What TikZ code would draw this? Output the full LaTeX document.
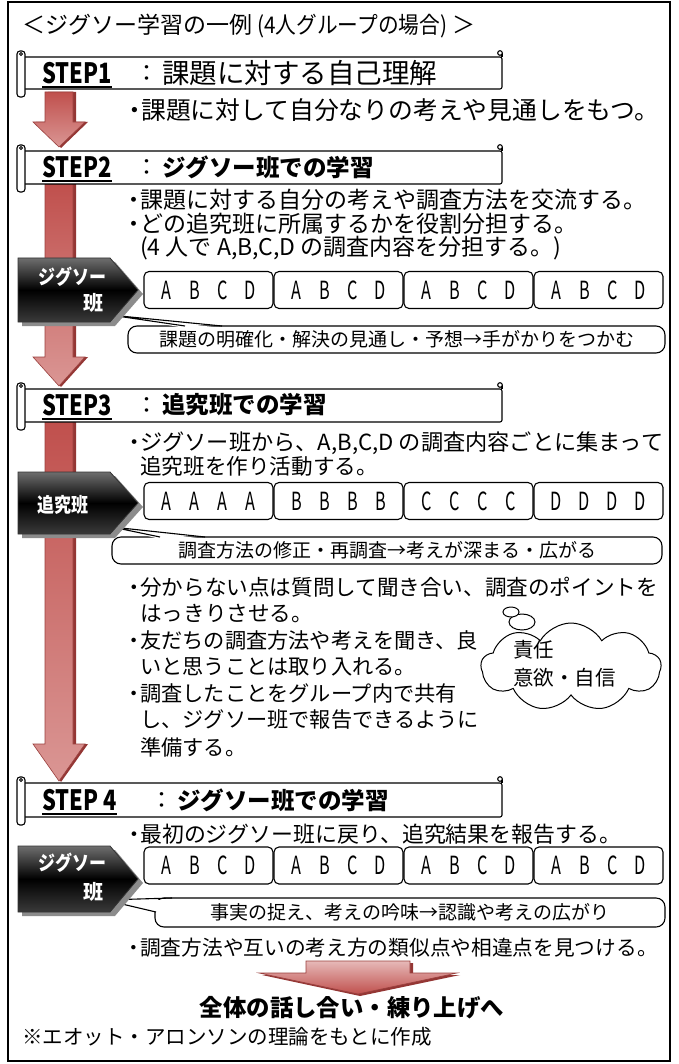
\documentclass[tikz,border=0pt]{standalone}
\usepackage{fontspec}
\usepackage{graphicx}
\setmainfont{Noto Sans CJK JP}
\usetikzlibrary{shapes.symbols}
\definecolor{arrowred}{HTML}{C0504D}
\definecolor{arrowlight}{HTML}{DA9694}
\definecolor{arrowdark}{HTML}{943634}
\definecolor{pinklight}{HTML}{E6B9B8}
\definecolor{shadowgray}{HTML}{8C8C8C}
\definecolor{pentTop}{HTML}{6E6E6E}
\definecolor{pentBot}{HTML}{3A3A3A}
\newcommand{\fs}[1]{\fontsize{#1}{#1}\selectfont}
\newcommand{\bul}{\makebox[12pt][c]{・}}
\newcommand{\ltr}[1]{\makebox[28pt][c]{\scalebox{0.65}[1]{#1}}}
\newcommand{\cond}[2]{\scalebox{#1}[1]{#2}}
\newcommand{\redarrow}[3]{%
  \fill[arrowdark] (48,#1) -- (76,#1) -- (76,#2) -- (88,#2) -- (61,#3+1) -- (36,#2) -- (48,#2) -- cycle;
  \shade[top color=arrowred, bottom color=arrowlight, draw=arrowred!80!black, line width=0.6pt]
    (45,#1) -- (73,#1) -- (73,#2) -- (85,#2) -- (59,#3) -- (33,#2) -- (45,#2) -- cycle;}
\newcommand{\scrollban}[2]{%
  \draw[bline,fill=white,rounded corners=2pt] (24,#1) -- (502,#1) -- (502,#2) -- (24,#2);
  \draw[bline] (502,#1) -- (502,#1-4);
  \draw[bline,fill=white] (500,#1-4) circle (2.3);
  \draw[bline,fill=white,rounded corners=3pt] (17,#1-6) rectangle (25,#2+8);
  \draw[line width=0.8pt,fill=white] (21,#1-3) circle (1.5);}
\newcommand{\drawpent}[2]{%
  \pgfmathsetmacro{\pmid}{(#1+#2)/2}%
  \fill[shadowgray] (22,#1+4) -- (115,#1+4) -- (143,\pmid+4) -- (115,#2+4) -- (22,#2+4) -- cycle;
  \shade[top color=pentTop, bottom color=pentBot, middle color=black, draw=black!80, line width=0.8pt]
    (18,#1) -- (110,#1) -- (138,\pmid) -- (110,#2) -- (18,#2) -- cycle;}
\tikzset{
  x=1pt, y=-1pt,
  bline/.style={line width=1.1pt, draw=black},
  body/.style={anchor=west, inner sep=0pt, font=\fs{21.6}},
  steplabel/.style={anchor=west, inner sep=0pt, font=\fs{28}\bfseries},
  colon/.style={inner sep=0pt, font=\fs{23}},
  headtxt/.style={anchor=west, inner sep=0pt, font=\fs{23.5}\bfseries},
  lbox/.style={draw, line width=1.1pt, rounded corners=5pt, minimum width=129pt, minimum height=37pt, inner sep=0pt, fill=white, font=\fs{25}},
  cbox/.style={line width=1.1pt, draw=black, fill=white, rounded corners=9pt},
  wedge/.style={line width=1.1pt, line join=round},
  ctext/.style={inner sep=0pt, font=\fs{19}},
  penttxt/.style={inner sep=0pt, text=white, font=\fs{20}\bfseries},
}
\begin{document}
\begin{tikzpicture}
\useasboundingbox (0,0) rectangle (678,1064);
\fill[white] (0,0) rectangle (678,1064);
\draw[line width=1.2pt] (8,2) rectangle (670,1061);

% title
\node[anchor=west, inner sep=0pt, font=\fs{23}] (title) at (22,26) {＜ジグソー学習の一例 \cond{0.9}{(4人グループの場合)} ＞};

% arrows
\redarrow{92}{122}{147}
\redarrow{184}{357}{386}
\redarrow{422}{744}{781}

% ---------------- STEP1
\scrollban{57}{89}
\node[steplabel] (s1) at (42,73) {\cond{0.78}{STEP1}};
\draw[line width=1.2pt] ([yshift=-3pt]s1.south west) -- ([yshift=-3pt]s1.south east);
\node[colon] (c1) at (147,74) {：};
\node[anchor=west, inner sep=0pt, font=\fs{27.5}] (h1) at (162,73) {課題に対する自己理解};
\node[body, font=\fs{24.8}] (t1) at (128,110) {\makebox[13pt][c]{・}課題に対して自分なりの考えや見通しをもつ。};

% ---------------- STEP2
\scrollban{151}{184}
\node[steplabel] (s2) at (42,167) {\cond{0.78}{STEP2}};
\draw[line width=1.2pt] ([yshift=-3pt]s2.south west) -- ([yshift=-3pt]s2.south east);
\node[colon] (c2) at (147,168) {：};
\node[headtxt] (h2) at (162,167) {ジグソー班での学習};
\node[body, font=\fs{23}] (t2a) at (128,200) {\bul 課題に対する自分の考えや調査方法を交流する。};
\node[body, font=\fs{23}] (t2b) at (128,224) {\bul どの追究班に所属するかを役割分担する。};
\node[body, font=\fs{23}] (t2c) at (140,248) {(4 人で A,B,C,D の調査内容を分担する。)};

\node[lbox] (b1a) at (208.5,290) {\ltr{A}\ltr{B}\ltr{C}\ltr{D}};
\node[lbox] (b1b) at (338.5,290) {\ltr{A}\ltr{B}\ltr{C}\ltr{D}};
\node[lbox] (b1c) at (468.5,290) {\ltr{A}\ltr{B}\ltr{C}\ltr{D}};
\node[lbox] (b1d) at (598.5,290) {\ltr{A}\ltr{B}\ltr{C}\ltr{D}};

\draw[cbox] (128,326) rectangle (665,353);
\fill[white] (110,315) -- (185,328) -- (222,328) -- cycle;
\draw[wedge] (185,326) -- (110,315) -- (222,326);
\node[ctext] (co1) at (396.5,339.5) {課題の明確化・解決の見通し・予想→手がかりをつかむ};

\drawpent{258}{322}
\node[penttxt] (p1a) at (72,277) {\cond{0.85}{ジグソー}};
\node[penttxt] (p1b) at (93,303) {班};

% ---------------- STEP3
\scrollban{389}{422}
\node[steplabel] (s3) at (42,405) {\cond{0.78}{STEP3}};
\draw[line width=1.2pt] ([yshift=-3pt]s3.south west) -- ([yshift=-3pt]s3.south east);
\node[colon] (c3) at (147,406) {：};
\node[headtxt] (h3) at (162,405) {追究班での学習};
\node[body, font=\fs{22.2}] (t3a) at (128,443) {\bul ジグソー班から、A,B,C,D の調査内容ごとに集まって};
\node[body] (t3b) at (140,466) {追究班を作り活動する。};

\node[lbox] (b2a) at (208.5,501) {\ltr{A}\ltr{A}\ltr{A}\ltr{A}};
\node[lbox] (b2b) at (338.5,501) {\ltr{B}\ltr{B}\ltr{B}\ltr{B}};
\node[lbox] (b2c) at (468.5,501) {\ltr{C}\ltr{C}\ltr{C}\ltr{C}};
\node[lbox] (b2d) at (598.5,501) {\ltr{D}\ltr{D}\ltr{D}\ltr{D}};

\draw[cbox] (112,537) rectangle (662,564);
\fill[white] (112,527) -- (160,539) -- (205,539) -- cycle;
\draw[wedge] (160,537) -- (112,527) -- (205,537);
\node[ctext] (co2) at (387,550.5) {調査方法の修正・再調査→考えが深まる・広がる};

\drawpent{472}{534}
\node[penttxt] (p2) at (63,505) {\cond{0.85}{追究班}};

\node[body] (t3c) at (128,587) {\bul 分からない点は質問して聞き合い、調査のポイントを};
\node[body] (t3d) at (140,614) {はっきりさせる。};
\node[body, font=\fs{21.2}] (t3e) at (128,640) {\bul 友だちの調査方法や考えを聞き、良};
\node[body, font=\fs{21.2}] (t3f) at (140,667) {いと思うことは取り入れる。};
\node[body, font=\fs{21.2}] (t3g) at (128,694) {\bul 調査したことをグループ内で共有};
\node[body, font=\fs{21.2}] (t3h) at (140,720) {し、ジグソー班で報告できるように};
\node[body, font=\fs{21.2}] (t3i) at (140,747) {準備する。};

\node[cloud, cloud puffs=9, cloud puff arc=120, aspect=2.1, draw, line width=1pt, fill=white,
      minimum width=180pt, minimum height=88pt, inner sep=0pt] (cloud) at (571,667) {};
\draw[line width=1pt, fill=white] (522,622) ellipse (13 and 8);
\draw[line width=1pt, fill=white] (511,612) ellipse (8 and 5);
\node[anchor=west, inner sep=0pt, font=\fs{20.5}] (k1) at (513,650) {責任};
\node[anchor=west, inner sep=0pt, font=\fs{20.5}] (k2) at (513,678) {意欲・自信};

% ---------------- STEP4
\scrollban{783}{817}
\node[steplabel] (s4) at (42,800) {\cond{0.78}{STEP 4}};
\draw[line width=1.2pt] ([yshift=-3pt]s4.south west) -- ([yshift=-3pt]s4.south east);
\node[colon] (c4) at (162,801) {：};
\node[headtxt] (h4) at (177,800) {ジグソー班での学習};
\node[body, font=\fs{21.9}] (t4a) at (128,834) {\bul 最初のジグソー班に戻り、追究結果を報告する。};

\node[lbox] (b3a) at (208.5,865.5) {\ltr{A}\ltr{B}\ltr{C}\ltr{D}};
\node[lbox] (b3b) at (338.5,865.5) {\ltr{A}\ltr{B}\ltr{C}\ltr{D}};
\node[lbox] (b3c) at (468.5,865.5) {\ltr{A}\ltr{B}\ltr{C}\ltr{D}};
\node[lbox] (b3d) at (598.5,865.5) {\ltr{A}\ltr{B}\ltr{C}\ltr{D}};

\draw[cbox] (155,898) rectangle (665,927);
\fill[white] (105,900) -- (172,900) -- (157,912) -- cycle;
\draw[wedge] (172,898) -- (105,900) -- (156,912);
\node[ctext] (co3) at (410,912.5) {事実の捉え、考えの吟味→認識や考えの広がり};

\drawpent{846}{912}
\node[penttxt] (p3a) at (72,863) {\cond{0.85}{ジグソー}};
\node[penttxt] (p3b) at (93,892) {班};

\node[body, font=\fs{20.7}] (t4b) at (128,948) {\bul 調査方法や互いの考え方の類似点や相違点を見つける。};

% big arrow
\fill[arrowdark] (309,963) -- (413,963) -- (413,975) -- (460,975) -- (360,996) -- (262,975) -- (309,975) -- cycle;
\shade[top color=pinklight, bottom color=arrowred, draw=arrowred!80!black, line width=0.6pt]
  (306,961) -- (410,961) -- (410,973) -- (457,973) -- (358,994) -- (259,973) -- (306,973) -- cycle;

\node[inner sep=0pt, font=\fs{23.4}\bfseries] (final) at (352,1008) {全体の話し合い・練り上げへ};
\node[anchor=west, inner sep=0pt, font=\fs{20.5}] (note) at (22,1037) {※エオット・アロンソンの理論をもとに作成};
\end{tikzpicture}
\end{document}
